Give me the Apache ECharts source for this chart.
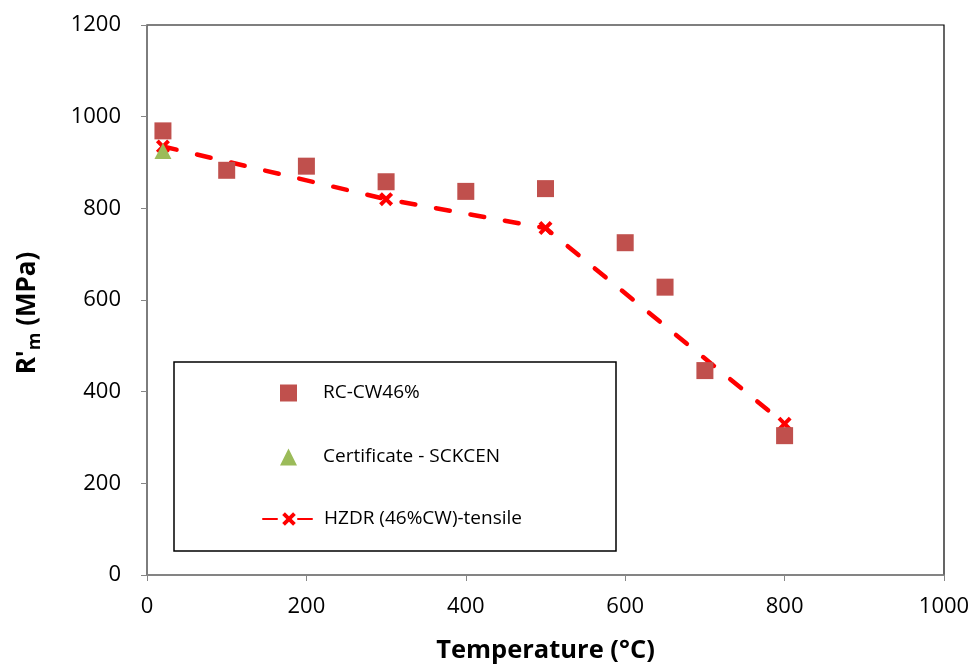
<!DOCTYPE html>
<html>
<head>
<meta charset="utf-8">
<script src="https://cdn.jsdelivr.net/npm/echarts@6/dist/echarts.min.js"></script>
<style>
html,body{margin:0;padding:0;background:#fff;}
#c{width:973px;height:669px;}
</style>
</head>
<body>
<div id="c"></div>
<script>
// Data
const rcTemps = [20, 100, 200, 300, 400, 500, 600, 650, 700, 800];
const rcValues = [969, 883, 892, 858, 837, 843, 725, 628, 446, 304];
const certTemps = [20];
const certValues = [925];
const hzdrTemps = [20, 300, 500, 800];
const hzdrValues = [935, 820, 757, 330];
const xTicks = [0, 200, 400, 600, 800, 1000];
const yTicks = [0, 200, 400, 600, 800, 1000, 1200];

const seriesNames = ['RC-CW46%', 'Certificate - SCKCEN', 'HZDR (46%CW)-tensile'];

const zip = (a, b) => a.map((v, i) => [v, b[i]]);
const crossPath = 'path://M2,0 L5,3 L8,0 L10,2 L7,5 L10,8 L8,10 L5,7 L2,10 L0,8 L3,5 L0,2 Z';

const chart = echarts.init(document.getElementById('c'), null, {renderer: 'canvas'});
const gray = '#868686';
const fontFam = '"Open Sans", Lato, sans-serif';
const plain = v => String(v);

chart.setOption({
  animation: false,
  backgroundColor: '#fff',
  grid: {left: 147, right: 29, top: 25, bottom: 92, show: true, borderColor: '#000', borderWidth: 1.2, containLabel: false},
  xAxis: {
    type: 'value', min: xTicks[0], max: xTicks[xTicks.length - 1], interval: 200,
    axisLine: {show: true, onZero: false, lineStyle: {color: gray, width: 1.5}},
    axisTick: {show: true, length: 6, lineStyle: {color: gray, width: 1}},
    splitLine: {show: false},
    axisLabel: {margin: 21, color: '#000', fontSize: 22, fontFamily: fontFam, formatter: plain},
    name: 'Temperature (°C)', nameLocation: 'middle', nameGap: 63,
    nameTextStyle: {color: '#000', fontSize: 25.5, fontWeight: 'bold', fontFamily: fontFam}
  },
  yAxis: {
    type: 'value', min: yTicks[0], max: yTicks[yTicks.length - 1], interval: 200,
    axisLine: {show: true, lineStyle: {color: gray, width: 1.5}},
    axisTick: {show: true, length: 6, lineStyle: {color: gray, width: 1}},
    splitLine: {show: false},
    axisLabel: {margin: 26, color: '#000', fontSize: 22, fontFamily: fontFam, formatter: plain},
    name: "{a|R'}{s|m}{a| (MPa)}", nameLocation: 'middle', nameGap: 104, nameRotate: 90,
    nameTextStyle: {
      color: '#000', fontSize: 26, fontWeight: 'bold', fontFamily: fontFam,
      padding: [0, 26, 0, 0],
      rich: {
        a: {fontSize: 26, fontWeight: 'bold', fontFamily: fontFam, color: '#000', lineHeight: 30},
        s: {fontSize: 18, fontWeight: 'bold', fontFamily: fontFam, color: '#000', lineHeight: 30, padding: [14, 0, 0, 0]}
      }
    }
  },
  legend: [
    {
      orient: 'vertical', left: 280, top: 383, padding: 0,
      itemWidth: 17, itemHeight: 17, itemGap: 44,
      data: [
        {name: seriesNames[0], icon: 'rect'},
        {name: seriesNames[1], icon: 'triangle'}
      ],
      textStyle: {fontSize: 19, color: '#000', fontFamily: fontFam, padding: [0, 0, 0, 21], lineHeight: 20},
      selectedMode: false
    },
    {
      orient: 'vertical', left: 262, top: 509, padding: 0,
      itemWidth: 52, itemHeight: 17,
      data: [seriesNames[2]],
      textStyle: {fontSize: 19, color: '#000', fontFamily: fontFam, padding: [0, 0, 0, 4], lineHeight: 20},
      selectedMode: false
    }
  ],
  graphic: [{
    type: 'rect', z: 1,
    shape: {x: 174, y: 362, width: 442, height: 189},
    style: {fill: '#fff', stroke: '#000', lineWidth: 1.5}
  }],
  series: [
    {
      name: seriesNames[2], type: 'line', z: 3,
      data: zip(hzdrTemps, hzdrValues),
      symbol: crossPath, symbolSize: 14, showAllSymbol: true,
      itemStyle: {color: '#FF0000'},
      lineStyle: {color: '#FF0000', width: 4.5, type: [14, 21], cap: 'round'}
    },
    {
      name: seriesNames[0], type: 'scatter', z: 4,
      data: zip(rcTemps, rcValues),
      symbol: 'rect', symbolSize: 17,
      itemStyle: {color: '#C0504D', opacity: 1}
    },
    {
      name: seriesNames[1], type: 'scatter', z: 5,
      data: zip(certTemps, certValues),
      symbol: 'triangle', symbolSize: [17, 16],
      itemStyle: {color: '#9BBB59', opacity: 1}
    }
  ]
});
</script>
</body>
</html>
